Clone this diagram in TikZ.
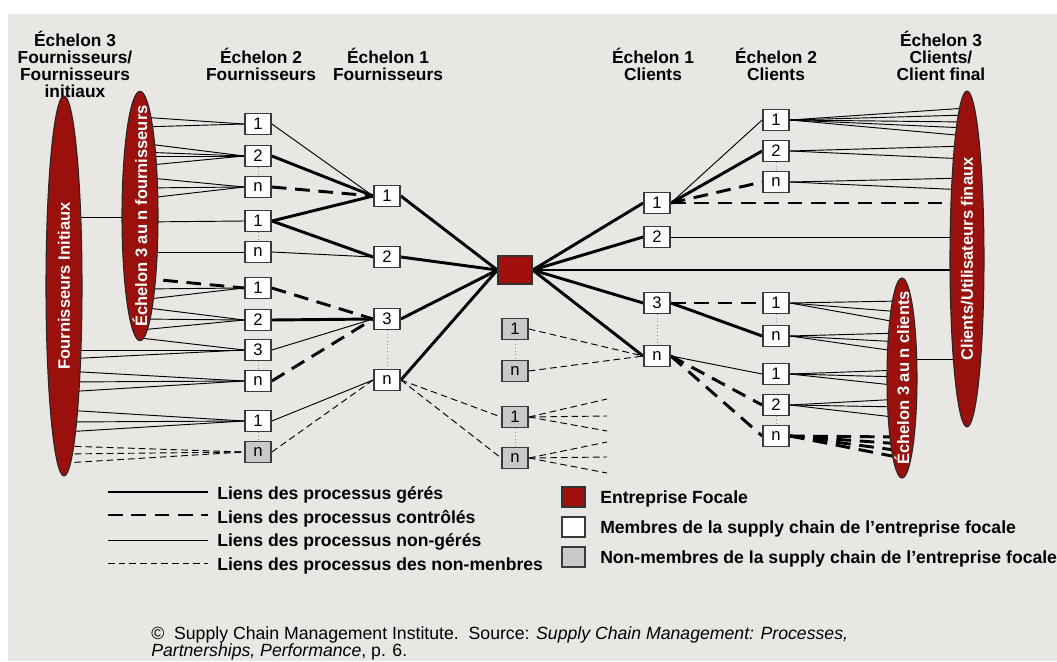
\documentclass[tikz,border=0pt]{standalone}
\usepackage{fontspec}
\setmainfont{Liberation Sans}
\usetikzlibrary{shapes.geometric}
\pgfdeclarelayer{back}
\pgfdeclarelayer{links}
\pgfsetlayers{back,links,main}

\definecolor{paper}{HTML}{E8E7E3}
\definecolor{focalred}{HTML}{A30F0C}
\definecolor{tierred}{HTML}{9A100C}
\definecolor{boxline}{HTML}{3A3A3A}
\definecolor{nonmem}{HTML}{C9C9C9}

\tikzset{
  member/.style={draw=boxline, line width=1.3pt, fill=white, minimum width=19.5pt,
    minimum height=15.75pt, inner sep=0pt, font=\fontsize{12.5}{12.5}\selectfont},
  nonmember/.style={member, fill=nonmem},
  focalbox/.style={draw=black!80, line width=1pt, fill=focalred,
    minimum width=25.5pt, minimum height=21pt, inner sep=0pt},
  tier/.style={ellipse, draw=black!85, line width=0.8pt, fill=tierred, text=white,
    rotate=90, inner xsep=-40pt, inner ysep=0pt,
    font=\fontsize{12.4}{12.4}\selectfont\bfseries},
  managed/.style={line width=2.2pt},
  monitored/.style={line width=2.2pt, dash pattern=on 11pt off 6.5pt},
  unmanaged/.style={line width=0.7pt},
  outsider/.style={line width=0.7pt, dash pattern=on 5pt off 3pt},
  tie/.style={draw=black!45, line width=0.6pt, dotted},
  head/.style={align=center, font=\fontsize{13}{12.75}\selectfont\bfseries,
    inner sep=0pt, anchor=north},
  legtext/.style={anchor=west, inner sep=0pt, font=\fontsize{13.2}{13.2}\selectfont\bfseries},
  keybox/.style={draw=boxline, line width=0.8pt, minimum width=17.25pt,
    minimum height=15pt, inner sep=0pt},
}

\begin{document}
\begin{tikzpicture}[x=0.75pt, y=-0.75pt]
\useasboundingbox (0,0) rectangle (1057,661);
\clip (0,0) rectangle (1057,661);

\begin{pgfonlayer}{back}
  \fill[white] (0,0) rectangle (1057,661);
  \fill[paper] (8,14) rectangle (1057,661);
\end{pgfonlayer}

% column headings
\node[head] (hs3) at (75,31) {Échelon 3\\Fournisseurs/\\Fournisseurs\\initiaux};
\node[head] (hs2) at (261,48) {Échelon 2\\Fournisseurs};
\node[head] (hs1) at (388,48) {Échelon 1\\Fournisseurs};
\node[head] (hc1) at (653,48) {Échelon 1\\Clients};
\node[head] (hc2) at (776,48) {Échelon 2\\Clients};
\node[head] (hc3) at (941,31) {Échelon 3\\Clients/\\Client final};

% outer tiers
\node[tier, minimum width=285pt, minimum height=27pt] (ellA) at (64,286) {Fournisseurs Initiaux};
\node[tier, minimum width=187pt, minimum height=27pt] (ellB) at (140,216) {Échelon 3 au n fournisseurs};
\node[tier, minimum width=150pt, minimum height=22.5pt] (ellC) at (902,378) {Échelon 3 au n clients};
\node[tier, minimum width=252pt, minimum height=25.5pt] (ellD) at (967,259) {Clients/Utilisateurs finaux};

% tier 2 suppliers
\node[member] (s2a) at (258,124) {1};
\node[member] (s2b) at (258,156) {2};
\node[member] (s2c) at (258,187) {n};
\node[member] (s2d) at (258,221) {1};
\node[member] (s2e) at (258,252) {n};
\node[member] (s2f) at (258,288) {1};
\node[member] (s2g) at (258,320) {2};
\node[member] (s2h) at (258,350) {3};
\node[member] (s2i) at (258,381) {n};
\node[member] (s2j) at (258,421) {1};
\node[nonmember] (s2k) at (258,452) {n};

% tier 1 suppliers
\node[member] (s1a) at (387,196) {1};
\node[member] (s1b) at (387,257) {2};
\node[member] (s1c) at (387,319) {3};
\node[member] (s1d) at (387,380) {n};

% focal company
\node[focalbox] (focal) at (515,270) {};

% non-members in the middle
\node[nonmember] (g1) at (515,329) {1};
\node[nonmember] (g2) at (515,371) {n};
\node[nonmember] (g3) at (515,417) {1};
\node[nonmember] (g4) at (515,458) {n};

% tier 1 customers
\node[member] (c1a) at (657,203) {1};
\node[member] (c1b) at (657,237) {2};
\node[member] (c1c) at (657,303) {3};
\node[member] (c1d) at (657,356) {n};

% tier 2 customers
\node[member] (c2a) at (776,120) {1};
\node[member] (c2b) at (776,151) {2};
\node[member] (c2c) at (776,182) {n};
\node[member] (c2d) at (776,303) {1};
\node[member] (c2e) at (776,336) {n};
\node[member] (c2f) at (776,374) {1};
\node[member] (c2g) at (776,405) {2};
\node[member] (c2h) at (776,436) {n};

% open ends of the outsider links
\coordinate (o1) at (607,399);
\coordinate (o2) at (607,416);
\coordinate (o3) at (607,431);
\coordinate (o4) at (607,442);
\coordinate (o5) at (607,457);
\coordinate (o6) at (607,473);

\begin{pgfonlayer}{links}
  % dotted ties inside a column
  \foreach \a/\b in {s2b/s2c, s2d/s2e, s2h/s2i, s2j/s2k, s1c/s1d, g1/g2, g3/g4,
                     c1c/c1d, c2b/c2c, c2d/c2e, c2g/c2h}
    \draw[tie] (\a) -- (\b);

  % initial suppliers to tier 3
  \draw[unmanaged] (ellA.center |- 0,217) -- (ellB.center |- 0,217);

  % tier 3 suppliers to tier 2
  \foreach \yy in {117,127} \draw[unmanaged] (ellB.center |- 0,\yy) -- (s2a.west);
  \foreach \yy in {143,152,156,166} \draw[unmanaged] (ellB.center |- 0,\yy) -- (s2b.west);
  \foreach \yy in {177,188,199} \draw[unmanaged] (ellB.center |- 0,\yy) -- (s2c.west);
  \draw[unmanaged] (ellB.center |- 0,222) -- (s2d.west);
  \draw[unmanaged] (ellB.center |- 0,252) -- (s2e.west);
  \draw[monitored] (ellB.center |- 0,278) -- (s2f.west);
  \foreach \yy in {289,300} \draw[unmanaged] (ellB.center |- 0,\yy) -- (s2f.west);
  \foreach \yy in {307,319,330} \draw[unmanaged] (ellB.center |- 0,\yy) -- (s2g.west);
  \draw[unmanaged] (ellB.center |- 0,338) -- (s2h.west);
  \foreach \yy in {350,359} \draw[unmanaged] (ellA.center |- 0,\yy) -- (s2h.west);
  \foreach \yy in {371,382,392} \draw[unmanaged] (ellA.center |- 0,\yy) -- (s2i.west);
  \foreach \yy in {410,422,432} \draw[unmanaged] (ellA.center |- 0,\yy) -- (s2j.west);
  \foreach \yy in {446,454,463} \draw[outsider] (ellA.center |- 0,\yy) -- (s2k.west);

  % tier 2 suppliers to tier 1
  \draw[unmanaged] (s2a.east) -- (s1a.west);
  \draw[managed]   (s2b.east) -- (s1a.west);
  \draw[monitored] (s2c.east) -- (s1a.west);
  \draw[managed]   (s2d.east) -- (s1a.west);
  \draw[managed]   (s2d.east) -- (s1b.west);
  \draw[unmanaged] (s2e.east) -- (s1b.west);
  \draw[monitored] (s2f.east) -- (s1c.west);
  \draw[managed]   (s2g.east) -- (s1c.west);
  \draw[unmanaged] (s2h.east) -- (s1c.west);
  \draw[monitored] (s2i.east) -- (s1c.west);
  \draw[unmanaged] (s2j.east) -- (s1d.west);
  \draw[outsider]  (s2k.east) -- (s1d.west);

  % tier 1 suppliers to the focal company
  \foreach \s in {s1a,s1b,s1c,s1d} \draw[managed] (\s.east) -- (focal.west);

  % links among non-members
  \draw[outsider] (s1d.east) -- (g3.west);
  \draw[outsider] (s1d.east) -- (g4.west);
  \draw[outsider] (g1.east) -- (c1d.west);
  \draw[outsider] (g2.east) -- (c1d.west);
  \foreach \o in {o1,o2,o3} \draw[outsider] (g3.east) -- (\o);
  \foreach \o in {o4,o5,o6} \draw[outsider] (g4.east) -- (\o);

  % focal company to tier 1 customers
  \foreach \c in {c1a,c1b,c1c,c1d} \draw[managed] (focal.east) -- (\c.west);
  \draw[managed] (focal.east) -- (focal.east -| ellD.center);

  % tier 1 customers onwards
  \draw[unmanaged] (c1a.east) -- (c2a.west);
  \draw[managed]   (c1a.east) -- (c2b.west);
  \draw[monitored] (c1a.east) -- (c2c.west);
  \draw[monitored] (c1a.east) -- (c1a.east -| ellD.center);
  \draw[unmanaged] (c1b.east) -- (c1b.east -| ellD.center);
  \draw[monitored] (c1c.east) -- (c2d.west);
  \draw[managed]   (c1c.east) -- (c2e.west);
  \draw[unmanaged] (c1d.east) -- (c2f.west);
  \draw[monitored] (c1d.east) -- (c2g.west);
  \draw[monitored] (c1d.east) -- (c2h.west);

  % tier 2 customers to tier 3 customers and end users
  \foreach \yy in {108,115,122,128,136} \draw[unmanaged] (c2a.east) -- (ellD.center |- 0,\yy);
  \foreach \yy in {146,159} \draw[unmanaged] (c2b.east) -- (ellD.center |- 0,\yy);
  \foreach \yy in {178,190} \draw[unmanaged] (c2c.east) -- (ellD.center |- 0,\yy);
  \foreach \yy in {301,312,323} \draw[unmanaged] (c2d.east) -- (ellC.center |- 0,\yy);
  \foreach \yy in {333,342,352} \draw[unmanaged] (c2e.east) -- (ellC.center |- 0,\yy);
  \foreach \yy in {370,377,386} \draw[unmanaged] (c2f.east) -- (ellC.center |- 0,\yy);
  \foreach \yy in {399,407,418} \draw[unmanaged] (c2g.east) -- (ellC.center |- 0,\yy);
  \foreach \yy in {437,444,451,458} \draw[monitored] (c2h.east) -- (ellC.center |- 0,\yy);
  \draw[unmanaged] (ellC.center |- 0,359) -- (ellD.center |- 0,359);
\end{pgfonlayer}

% key: link types
\draw[managed]   (108,492) -- (208,492);
\draw[monitored] (108,515) -- (208,515);
\draw[unmanaged] (108,540) -- (208,540);
\draw[outsider]  (108,563) -- (208,563);
\node[legtext] (k1) at (217,495) {Liens des processus gérés};
\node[legtext] (k2) at (217,519) {Liens des processus contrôlés};
\node[legtext] (k3) at (217,542) {Liens des processus non-gérés};
\node[legtext] (k4) at (217,566) {Liens des processus des non-menbres};

% key: company types
\node[keybox, fill=focalred, draw=black!80] (kf) at (573.5,497) {};
\node[keybox, fill=white] (km) at (573.5,527) {};
\node[keybox, fill=nonmem] (kn) at (573.5,557) {};
\node[legtext] (t1) at (600,499) {Entreprise Focale};
\node[legtext] (t2) at (600,529) {Membres de la supply chain de l’entreprise focale};
\node[legtext] (t3) at (600,559) {Non-membres de la supply chain de l’entreprise focale};

% source line
\node[anchor=north west, align=left, inner sep=0pt,
      font=\fontsize{13.25}{12.75}\selectfont] (src) at (151,626)
  {©\ \ Supply Chain Management Institute.\ \ Source: \textit{Supply Chain Management: Processes,}\\
   \textit{Partnerships, Performance}, p. 6.};
\end{tikzpicture}
\end{document}
